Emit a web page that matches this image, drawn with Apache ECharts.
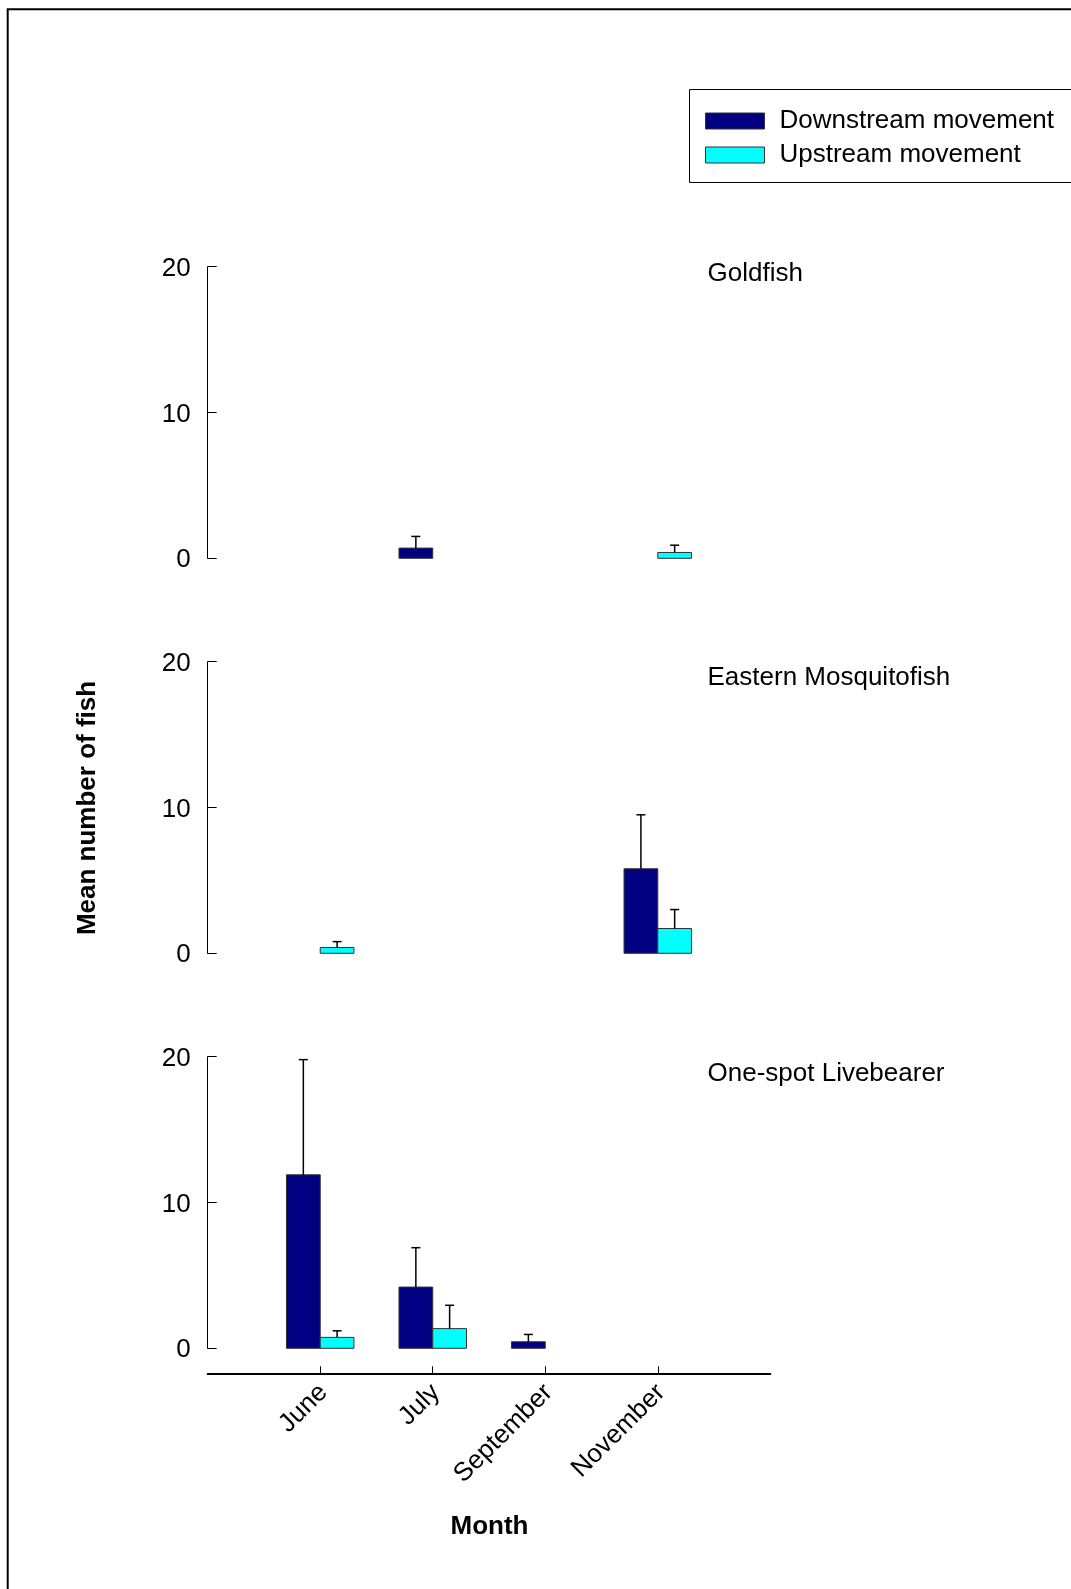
<!DOCTYPE html>
<html>
<head>
<meta charset="utf-8">
<script src="https://cdn.jsdelivr.net/npm/echarts@6/dist/echarts.min.js"></script>
<style>
  html, body { margin: 0; padding: 0; background: #fff; }
  #chart { width: 1071px; height: 1589px; }
</style>
</head>
<body>
<div id="chart"></div>
<script>
// Sampling months (x positions 1..4 on a 0..5 axis)
const months = ['June', 'July', 'September', 'November'];
const species = ['Goldfish', 'Eastern Mosquitofish', 'One-spot Livebearer'];
const yTicks = [0, 10, 20];
const seriesNames = ['Downstream movement', 'Upstream movement'];

// Mean number of fish and upper error (SE) per month; null = none caught
const goldfishDown      = [null, 0.7, null, null];
const goldfishDownErr   = [null, 0.8, null, null];
const goldfishUp        = [null, null, null, 0.4];
const goldfishUpErr     = [null, null, null, 0.5];

const mosquitoDown      = [null, null, null, 5.8];
const mosquitoDownErr   = [null, null, null, 3.7];
const mosquitoUp        = [0.4, null, null, 1.7];
const mosquitoUpErr     = [0.4, null, null, 1.3];

const livebearerDown    = [11.9, 4.2, 0.45, null];
const livebearerDownErr = [7.9, 2.7, 0.5, null];
const livebearerUp      = [0.75, 1.35, null, null];
const livebearerUpErr   = [0.45, 1.6, null, null];

const DOWN_COLOR = '#000080';
const UP_COLOR = '#00FFFF';
const FONT = '"Liberation Sans", Arial, Helvetica, sans-serif';

const panels = [
  { down: goldfishDown, downErr: goldfishDownErr, up: goldfishUp, upErr: goldfishUpErr },
  { down: mosquitoDown, downErr: mosquitoDownErr, up: mosquitoUp, upErr: mosquitoUpErr },
  { down: livebearerDown, downErr: livebearerDownErr, up: livebearerUp, upErr: livebearerUpErr }
];

// Grid geometry for the three stacked panels
const GRID_LEFT = 207.7, GRID_W = 562.6, GRID_H = 291.6;
const panelTops = [266.7, 661.7, 1056.7];
const titleY = [273.7, 678.2, 1074.2];

function toPoints(vals, errs) {
  const out = [];
  vals.forEach((v, i) => { if (v != null) out.push([i + 1, v, errs[i] || 0]); });
  return out;
}

// Bar with one-sided (upper) error bar; side -1 = left of tick, +1 = right of tick
function barRenderer(side, color) {
  return function (params, api) {
    const x = api.value(0), v = api.value(1), e = api.value(2);
    const base = api.coord([x, 0]);
    const top = api.coord([x, v]);
    const w = api.size([0.3, 0])[0];
    const x0 = side < 0 ? base[0] - w : base[0];
    const children = [{
      type: 'rect',
      shape: { x: x0, y: top[1], width: w, height: base[1] - top[1] },
      style: { fill: color, stroke: '#333', lineWidth: 1 }
    }];
    if (e) {
      const et = api.coord([x, v + e]);
      const cx = x0 + w / 2;
      children.push({ type: 'line', shape: { x1: cx, y1: top[1], x2: cx, y2: et[1] },
        style: { stroke: '#000', lineWidth: 1.5 } });
      children.push({ type: 'line', shape: { x1: cx - 4.5, y1: et[1], x2: cx + 4.5, y2: et[1] },
        style: { stroke: '#000', lineWidth: 1.5 } });
    }
    return { type: 'group', children };
  };
}

const grids = [], xAxes = [], yAxes = [], series = [];
panels.forEach((p, i) => {
  grids.push({ left: GRID_LEFT, top: panelTops[i], width: GRID_W, height: GRID_H, containLabel: false });
  const isBottom = i === panels.length - 1;
  xAxes.push({
    type: 'value', gridIndex: i, min: 0, max: 5, interval: 1,
    show: isBottom, position: 'bottom', offset: 25,
    axisLine: { show: true, onZero: false, lineStyle: { color: '#000', width: 2 } },
    axisTick: { show: true, inside: true, length: 7, customValues: [1, 2, 3, 4],
      lineStyle: { color: '#000', width: 1 } },
    axisLabel: { show: true, customValues: [1, 2, 3, 4], rotate: 45, margin: 12,
      formatter: v => '{m|' + (months[v - 1] || '') + '}',
      rich: { m: { fontSize: 26, color: '#000', fontFamily: FONT, padding: [9, 0, 0, 0] } },
      fontSize: 26, color: '#000', fontFamily: FONT },
    splitLine: { show: false }
  });
  yAxes.push({
    type: 'value', gridIndex: i, min: yTicks[0], max: yTicks[yTicks.length - 1], interval: 10,
    offset: 3,
    axisLine: { show: true, lineStyle: { color: '#000', width: 1 } },
    axisTick: { show: true, inside: true, length: 9, lineStyle: { color: '#000', width: 1 } },
    axisLabel: { margin: 14, formatter: v => '{t|' + v + '}',
      rich: { t: { fontSize: 26, color: '#000', fontFamily: FONT, padding: [4, 0, 0, 0] } },
      fontSize: 26, color: '#000', fontFamily: FONT },
    splitLine: { show: false }
  });
  series.push({
    name: seriesNames[0], type: 'custom', xAxisIndex: i, yAxisIndex: i,
    itemStyle: { color: DOWN_COLOR },
    renderItem: barRenderer(-1, DOWN_COLOR),
    data: toPoints(p.down, p.downErr), silent: true
  });
  series.push({
    name: seriesNames[1], type: 'custom', xAxisIndex: i, yAxisIndex: i,
    itemStyle: { color: UP_COLOR },
    renderItem: barRenderer(1, UP_COLOR),
    data: toPoints(p.up, p.upErr), silent: true
  });
});

const graphics = [
  // figure frame (runs off the right and bottom edges)
  { type: 'rect', silent: true, shape: { x: 7.7, y: 9.3, width: 1300, height: 1800 },
    style: { fill: 'none', stroke: '#000', lineWidth: 2 } },
  // legend box
  { type: 'rect', silent: true, shape: { x: 689.5, y: 89.5, width: 600, height: 93 },
    style: { fill: 'none', stroke: '#000', lineWidth: 1 } },
  { type: 'text', silent: true, x: 88, y: 808, rotation: Math.PI / 2,
    style: { text: 'Mean number of fish', align: 'center', verticalAlign: 'middle',
      fontSize: 26, fontWeight: 'bold', fontFamily: FONT, fill: '#000' } },
  { type: 'text', silent: true, x: 489.5, y: 1527,
    style: { text: 'Month', align: 'center', verticalAlign: 'middle',
      fontSize: 26, fontWeight: 'bold', fontFamily: FONT, fill: '#000' } }
];
species.forEach((s, i) => {
  graphics.push({ type: 'text', silent: true, x: 707.5, y: titleY[i],
    style: { text: s, align: 'left', verticalAlign: 'middle',
      fontSize: 26, fontFamily: FONT, fill: '#000' } });
});

const chart = echarts.init(document.getElementById('chart'), null, { renderer: 'canvas' });
chart.setOption({
  animation: false,
  backgroundColor: '#fff',
  textStyle: { fontFamily: FONT },
  legend: {
    left: 689, top: 89, orient: 'vertical', icon: 'rect', selectedMode: false,
    itemWidth: 59, itemHeight: 16, itemGap: 4,
    padding: [17, 10, 17, 16],
    textStyle: { fontSize: 26, color: '#000', lineHeight: 26, padding: [4, 0, 0, 10], fontFamily: FONT },
    data: [
      { name: seriesNames[0], itemStyle: { color: DOWN_COLOR, borderColor: '#333', borderWidth: 1 } },
      { name: seriesNames[1], itemStyle: { color: UP_COLOR, borderColor: '#333', borderWidth: 1 } }
    ]
  },
  grid: grids,
  xAxis: xAxes,
  yAxis: yAxes,
  series: series,
  graphic: graphics
});
</script>
</body>
</html>
